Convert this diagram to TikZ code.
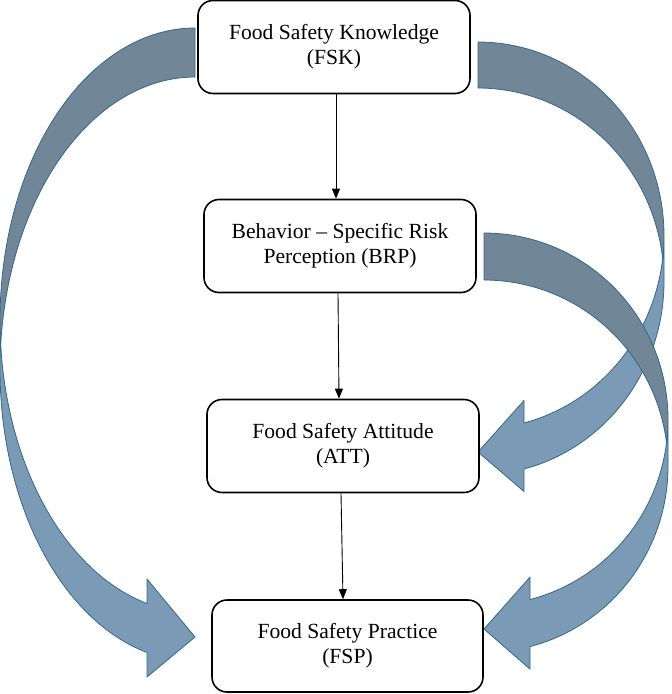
\documentclass[tikz,border=0pt]{standalone}
\usepackage{fontspec}
\setmainfont{Liberation Serif}
\usetikzlibrary{arrows.meta,calc}
\definecolor{frontc}{RGB}{123,154,181}
\definecolor{backc}{RGB}{113,134,150}
\definecolor{edgec}{RGB}{50,104,140}
\tikzset{
  ppbox/.style={draw, line width=1.6pt, rounded corners=15pt, fill=white,
    minimum width=272pt, minimum height=93pt, align=center, inner sep=0pt,
    font=\fontsize{21.6}{25}\selectfont},
  pparr/.style={draw, line width=0.9pt, -{Triangle[length=10pt,width=8pt]}},
  ppedge/.style={draw=edgec, line width=0.8pt, line join=round}
}
% #1,#2: position of tip column / top; #3: 1 or -1 (mirror); #4 w; #5 th; #6 aw; #7 ah; #8 hR
\newcommand\ppcurved[8]{%
 \begin{scope}[shift={(#1,#2)},xscale=#3]
 \pgfmathsetmacro\pw{#4}%
 \pgfmathsetmacro\pth{#5}%
 \pgfmathsetmacro\paw{#6}%
 \pgfmathsetmacro\pah{#7}%
 \pgfmathsetmacro\phR{#8}%
 \pgfmathsetmacro\pta{acos(-\pah/\pw)}%
 \pgfmathsetmacro\pyf{\phR+\phR*sin(\pta)}%
 \pgfmathsetmacro\pys{\pyf+\pth}%
 \pgfmathsetmacro\pdh{(\paw-\pth)/2}%
 \pgfmathsetmacro\pyq{\pyf-\pdh}%
 \pgfmathsetmacro\pye{\pys+\pdh}%
 \pgfmathsetmacro\pyt{2*\phR+\pth/2}%
 \pgfmathsetmacro\ptc{asin(\pth/(2*\phR))}%
 \pgfmathsetmacro\pcb{180-\ptc}%
 \pgfmathsetmacro\pcc{180+\ptc}%
 \pgfmathsetmacro\phT{\phR+\pth}%
 % front band with head
 \fill[frontc] plot[domain=180:\pta,samples=70,variable=\pp] ({\pw*cos(\pp)},{\phR+\phR*sin(\pp)})
   -- (-\pah,\pyq) -- (0,\pyt) -- (-\pah,\pye) -- (-\pah,\pys)
   -- plot[domain=\pta:180,samples=70,variable=\pp] ({\pw*cos(\pp)},{\phT+\phR*sin(\pp)}) -- cycle;
 % back band
 \fill[backc] plot[domain=270:\pcc,samples=70,variable=\pp] ({\pw*cos(\pp)},{\phT+\phR*sin(\pp)})
   -- plot[domain=\pcb:270,samples=70,variable=\pp] ({\pw*cos(\pp)},{\phR+\phR*sin(\pp)}) -- cycle;
 % outline
 \draw[ppedge] plot[domain=180:\pta,samples=70,variable=\pp] ({\pw*cos(\pp)},{\phR+\phR*sin(\pp)})
   -- (-\pah,\pyq) -- (0,\pyt) -- (-\pah,\pye) -- (-\pah,\pys)
   -- plot[domain=\pta:180,samples=70,variable=\pp] ({\pw*cos(\pp)},{\phT+\phR*sin(\pp)}) -- cycle;
 \draw[ppedge] plot[domain=180:270,samples=70,variable=\pp] ({\pw*cos(\pp)},{\phR+\phR*sin(\pp)})
   -- (0,\pth)
   -- plot[domain=270:\pcc,samples=70,variable=\pp] ({\pw*cos(\pp)},{\phT+\phR*sin(\pp)});
 \end{scope}%
}
\begin{document}
\begin{tikzpicture}[x=1pt,y=-1pt]
\useasboundingbox (0,0) rectangle (672,694);
% curved block arrows
\ppcurved{195}{28}{1}{195}{49}{98}{48}{292.25}
\ppcurved{478}{42}{-1}{186}{46}{91}{46}{193.5}
\ppcurved{484}{233}{-1}{184}{47}{92}{46}{186.25}
% boxes
\node[ppbox] (FSK) at (334,47) {Food Safety Knowledge\\(FSK)};
\node[ppbox] (BRP) at (340,246) {Behavior – Specific Risk\\Perception (BRP)};
\node[ppbox] (ATT) at (343,446) {Food Safety Attitude\\(ATT)};
\node[ppbox, minimum width=271pt, minimum height=92pt] (FSP) at (347.5,646) {Food Safety Practice\\(FSP)};
% straight arrows
\draw[pparr] ($(FSK.south)+(2,0)$) -- ($(BRP.north)+(-4,0)$);
\draw[pparr] ($(BRP.south)+(-2,0)$) -- ($(ATT.north)+(-4,0)$);
\draw[pparr] ($(ATT.south)+(-2,0)$) -- ($(FSP.north)+(-4.5,0)$);
\end{tikzpicture}
\end{document}
